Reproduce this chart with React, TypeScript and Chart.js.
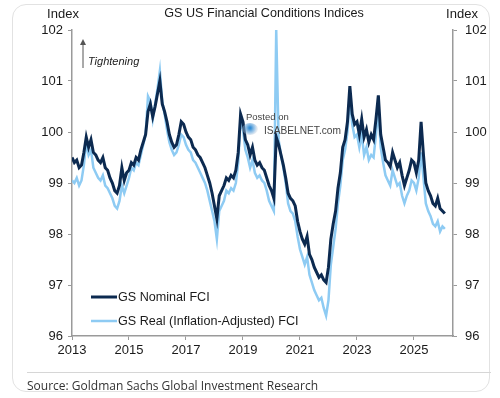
import React, { useEffect, useRef } from 'react';
import { Chart, registerables } from 'chart.js';

Chart.register(...registerables);

const TITLE = 'GS US Financial Conditions Indices';
const AXIS_LABEL = 'Index';
const SOURCE = 'Source: Goldman Sachs Global Investment Research';
const SERIES_NAMES = ['GS Nominal FCI', 'GS Real (Inflation-Adjusted) FCI'];

const START_YEAR = 2013;
const START_MONTH = 1;

// monthly readings, Jan 2013 .. Feb 2026
const nominalFCI: number[] = [
  99.5, 99.4, 99.45, 99.3, 99.35, 99.6, 99.9, 99.7, 99.85, 99.6, 99.55, 99.45,
  99.4, 99.5, 99.3, 99.25, 99.1, 99.0, 98.85, 98.8, 98.95, 99.3, 99.05, 99.2,
  99.25, 99.4, 99.35, 99.5, 99.45, 99.65, 99.8, 99.95, 100.4, 100.55, 100.3, 100.5,
  100.75, 101.0, 100.55, 100.4, 100.2, 99.95, 99.8, 99.7, 99.75, 99.95, 100.2, 100.15,
  100.0, 99.9, 99.85, 99.7, 99.65, 99.55, 99.5, 99.4, 99.3, 99.15, 99.0, 98.8,
  98.55, 98.3, 98.75, 98.85, 98.95, 99.1, 99.05, 99.15, 99.1, 99.25, 99.6, 100.35,
  100.2, 99.85, 99.75, 99.55, 99.7, 99.45, 99.35, 99.4, 99.3, 99.25, 99.1, 98.95,
  98.85, 98.7, 99.9, 99.75, 99.55, 99.35, 99.1, 98.8, 98.7, 98.65, 98.55, 98.25,
  98.05, 97.9, 97.8, 97.95, 97.6, 97.5, 97.35, 97.25, 97.15, 97.2, 97.1, 97.05,
  97.35, 97.9, 98.2, 98.45, 98.9, 99.2, 99.7, 99.85, 100.2, 100.9, 100.35, 100.15,
  100.2, 99.95, 100.25, 99.9, 100.05, 99.8, 99.95, 99.85, 100.25, 100.72, 99.95, 99.7,
  99.45, 99.4, 99.32, 99.6, 99.45, 99.3, 99.4, 99.15, 98.95, 99.1, 99.25, 99.45,
  99.4, 99.2, 99.45, 100.2, 99.55, 99.0, 98.85, 98.75, 98.6, 98.55, 98.7, 98.5,
  98.45, 98.4,
];

const realFCI: number[] = [
  99.05, 99.0, 99.1, 98.95, 99.05, 99.35, 99.8, 99.55, 99.65, 99.3, 99.2, 99.1,
  99.05, 99.15, 98.95, 98.9, 98.8, 98.7, 98.55, 98.5, 98.65, 98.95, 98.8, 98.95,
  99.1, 99.3, 99.25, 99.4, 99.35, 99.55, 99.75, 99.95, 100.7, 100.6, 100.25, 100.55,
  100.85, 101.2, 100.6, 100.35, 100.05, 99.8, 99.65, 99.55, 99.6, 99.75, 99.95, 99.9,
  99.75, 99.65, 99.6, 99.45, 99.4, 99.3, 99.2, 99.1, 99.0, 98.85, 98.65, 98.45,
  98.25, 97.9, 98.45, 98.55, 98.65, 98.85, 98.8, 98.9, 98.85, 99.0, 99.4, 100.25,
  100.05, 99.65, 99.5, 99.3, 99.45, 99.2, 99.1, 99.15, 99.05, 99.0, 98.85, 98.65,
  98.55, 98.45, 102.0, 99.85, 99.55, 99.3, 99.0, 98.6, 98.45, 98.4, 98.25, 97.95,
  97.7, 97.55, 97.4, 97.55, 97.2, 97.05, 96.9, 96.8, 96.7, 96.75, 96.55, 96.4,
  96.7, 97.4, 97.75, 98.1, 98.6, 98.95, 99.45, 99.65, 100.0, 100.7, 100.15, 99.9,
  99.95, 99.7, 99.95, 99.55, 99.7, 99.45, 99.55, 99.5, 99.95, 100.45, 99.7, 99.4,
  99.15, 99.05, 98.95, 99.25, 99.1, 98.95, 99.0, 98.75, 98.6, 98.75, 98.85, 99.05,
  99.0, 98.85, 99.1, 99.6, 99.1, 98.6, 98.45, 98.35, 98.2, 98.15, 98.25, 98.05,
  98.15, 98.1,
];

const xTickLabels: number[] = [2013, 2015, 2017, 2019, 2021, 2023, 2025];
const yTickLabels: number[] = [96, 97, 98, 99, 100, 101, 102];

// month labels "YYYY-MM"
const months: string[] = nominalFCI.map((_, i) => {
  const m = START_MONTH - 1 + i;
  const y = START_YEAR + Math.floor(m / 12);
  return `${y}-${String((m % 12) + 1).padStart(2, '0')}`;
});

const monthToYear = (s: string) => {
  const [y, m] = s.split('-').map(Number);
  return y + (m - 1) / 12;
};

const DARK = '#0c2a50';
const LIGHT = '#8ecbf3';
const FONT = '"Liberation Sans", Arial, sans-serif';

const overlayPlugin = {
  id: 'overlay',
  afterDraw(chart: any) {
    const ctx = chart.ctx as CanvasRenderingContext2D;
    const area = chart.chartArea;
    ctx.save();
    ctx.fillStyle = '#1a1a1a';
    ctx.textAlign = 'center';
    ctx.textBaseline = 'middle';
    ctx.font = `12.6px ${FONT}`;
    ctx.fillText(TITLE, 264, 14);
    ctx.font = `13px ${FONT}`;
    ctx.fillText(AXIS_LABEL, 63, 14);
    ctx.fillText(AXIS_LABEL, 462, 14);

    // Tightening arrow
    ctx.strokeStyle = '#555';
    ctx.fillStyle = '#555';
    ctx.lineWidth = 1;
    ctx.beginPath();
    ctx.moveTo(area.left + 11, area.top + 38);
    ctx.lineTo(area.left + 11, area.top + 13);
    ctx.stroke();
    ctx.beginPath();
    ctx.moveTo(area.left + 11, area.top + 9);
    ctx.lineTo(area.left + 8, area.top + 15);
    ctx.lineTo(area.left + 14, area.top + 15);
    ctx.closePath();
    ctx.fill();
    ctx.fillStyle = '#1a1a1a';
    ctx.font = `italic 11px ${FONT}`;
    ctx.textAlign = 'left';
    ctx.fillText('Tightening', area.left + 16, area.top + 32);

    // Legend
    const ds = chart.data.datasets;
    const rows = [297, 321];
    rows.forEach((y, i) => {
      ctx.strokeStyle = ds[i].borderColor;
      ctx.lineWidth = i === 0 ? 3 : 2.5;
      ctx.beginPath();
      ctx.moveTo(91, y);
      ctx.lineTo(117, y);
      ctx.stroke();
      ctx.fillStyle = '#1a1a1a';
      ctx.font = `12.6px ${FONT}`;
      ctx.textAlign = 'left';
      ctx.textBaseline = 'middle';
      ctx.fillText(ds[i].label, 118, y + 1);
    });

    // Watermark
    const g = ctx.createRadialGradient(250, 128, 1, 250, 128, 8);
    g.addColorStop(0, 'rgba(30,130,210,0.9)');
    g.addColorStop(0.55, 'rgba(110,170,220,0.6)');
    g.addColorStop(1, 'rgba(200,205,215,0.25)');
    ctx.fillStyle = g;
    ctx.beginPath();
    ctx.ellipse(250, 129, 8, 6, 0, 0, Math.PI * 2);
    ctx.fill();
    ctx.fillStyle = '#444';
    ctx.font = `9.5px ${FONT}`;
    ctx.fillText('Posted on', 246, 117);
    ctx.font = `10.2px ${FONT}`;
    ctx.fillText('ISABELNET.com', 264, 131);
    ctx.restore();
  },
};

const yAxisCommon = (position: 'left' | 'right', width: number) => ({
  type: 'linear' as const,
  position,
  min: 96,
  max: 102,
  afterBuildTicks: (scale: any) => {
    scale.ticks = yTickLabels.map((v) => ({ value: v }));
  },
  afterFit: (scale: any) => {
    scale.width = width;
  },
  ticks: {
    color: '#1a1a1a',
    font: { size: 13, family: FONT },
    padding: position === 'left' ? 5 : 8,
  },
  grid: {
    display: true,
    drawOnChartArea: false,
    drawTicks: true,
    tickLength: 4,
    tickColor: '#9a9a9a',
  },
  border: { display: true, color: '#9a9a9a', width: 1.5 },
});

export default function App() {
  const ref = useRef<HTMLCanvasElement | null>(null);

  useEffect(() => {
    if (!ref.current) return;
    const xs = months.map(monthToYear);
    const chart = new Chart(ref.current, {
      type: 'line',
      data: {
        datasets: [
          {
            label: SERIES_NAMES[0],
            data: nominalFCI.map((v, i) => ({ x: xs[i], y: v })),
            borderColor: DARK,
            borderWidth: 3,
            pointRadius: 0,
            tension: 0,
            yAxisID: 'y',
          },
          {
            label: SERIES_NAMES[1],
            data: realFCI.map((v, i) => ({ x: xs[i], y: v })),
            borderColor: LIGHT,
            borderWidth: 2.5,
            pointRadius: 0,
            tension: 0,
            yAxisID: 'y',
          },
        ],
      },
      options: {
        responsive: false,
        animation: false,
        devicePixelRatio: 1,
        layout: { padding: { top: 30, left: 0, right: 0, bottom: 0 } },
        plugins: {
          legend: { display: false },
          tooltip: { enabled: false },
          title: { display: false },
        },
        scales: {
          x: {
            type: 'linear',
            min: 2013,
            max: 2026.37,
            afterBuildTicks: (scale: any) => {
              scale.ticks = xTickLabels.map((v) => ({ value: v }));
            },
            afterFit: (scale: any) => {
              scale.height = 62;
            },
            ticks: {
              color: '#1a1a1a',
              font: { size: 13, family: FONT },
              padding: 3,
              maxRotation: 0,
              callback: (v: any) => String(v),
            },
            grid: {
              display: true,
              drawOnChartArea: false,
              drawTicks: true,
              tickLength: 4,
              tickColor: '#9a9a9a',
            },
            border: { display: true, color: '#9a9a9a', width: 1.5 },
          },
          y: yAxisCommon('left', 72) as any,
          y2: yAxisCommon('right', 47) as any,
        },
      },
      plugins: [overlayPlugin],
    });
    return () => chart.destroy();
  }, []);

  return (
    <div style={{ position: 'absolute', left: 0, top: 0, width: 500, height: 398, background: '#fff', overflow: 'hidden' }}>
      <div
        style={{
          position: 'absolute',
          left: 12,
          top: 4,
          width: 478,
          height: 388,
          border: '1px solid #e2e2e2',
          borderRadius: 14,
          boxSizing: 'border-box',
        }}
      />
      <canvas ref={ref} width={500} height={398} style={{ position: 'absolute', left: 0, top: 0 }} />
      <div style={{ position: 'absolute', left: 27, top: 372, width: 464, height: 1, background: '#d6d6d6' }} />
      <div
        style={{
          position: 'absolute',
          left: 27,
          top: 378,
          fontFamily: '"Open Sans", "Noto Sans", sans-serif',
          fontSize: 12,
          color: '#333',
          whiteSpace: 'nowrap',
          lineHeight: '16px',
        }}
      >
        {SOURCE}
      </div>
    </div>
  );
}
